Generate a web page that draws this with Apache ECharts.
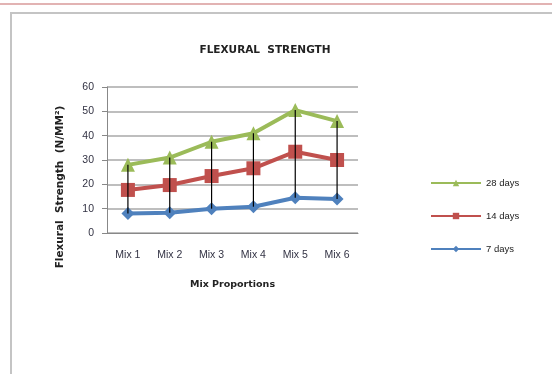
<!DOCTYPE html>
<html>
<head>
<meta charset="utf-8">
<style>
  html, body { margin: 0; padding: 0; background: #fff; }
  #chart { width: 552px; height: 374px; }
</style>
<script src="https://cdn.jsdelivr.net/npm/echarts@6/dist/echarts.min.js"></script>
</head>
<body>
<div id="chart"></div>
<script>
// Flexural strength by mix at three curing ages
const categories = ['Mix 1', 'Mix 2', 'Mix 3', 'Mix 4', 'Mix 5', 'Mix 6'];
const days28 = [28, 31, 37.5, 41, 50.5, 46];
const days14 = [17.7, 19.7, 23.4, 26.6, 33.4, 30];
const days7 = [8, 8.3, 10, 10.8, 14.5, 14];
const yTicks = [0, 10, 20, 30, 40, 50, 60];

// High-low connectors between the 7-day and 28-day values
const hiLow = categories.map((c, i) => [i, days7[i], days28[i]]);

const font = 'Liberation Sans, Arial, sans-serif';
const boldFont = 'DejaVu Sans, Liberation Sans, sans-serif';
const chart = echarts.init(document.getElementById('chart'));

chart.setOption({
  animation: false,
  title: {
    text: 'FLEXURAL  STRENGTH',
    left: 260, top: 40, textAlign: 'center',
    textStyle: { fontSize: 10.5, fontWeight: 'bold', color: '#222', fontFamily: boldFont }
  },
  graphic: [
    { type: 'line', shape: { x1: 0, y1: 4, x2: 552, y2: 4 },
      style: { stroke: '#d99a9a', lineWidth: 1.5 }, silent: true },
    { type: 'rect', shape: { x: 11, y: 13, width: 560, height: 380 },
      style: { fill: 'none', stroke: '#c4c4c4', lineWidth: 2 }, silent: true },
    // value axis title, rotated along the left side
    { type: 'text', x: 60, y: 187, rotation: Math.PI / 2, silent: true,
      style: { text: 'Flexural  Strength  (N/MM²)', fontSize: 10.5, fontWeight: 'bold',
        fontFamily: boldFont, fill: '#222', align: 'center', verticalAlign: 'middle' } }
  ],
  legend: {
    orient: 'vertical', left: 425, top: 173, itemGap: 23,
    itemWidth: 50, itemHeight: 8,
    data: ['28 days', '14 days', '7 days'],
    textStyle: { fontSize: 9.5, color: '#222', fontFamily: font }
  },
  grid: { left: 107, right: 194, top: 87, bottom: 141 },
  xAxis: {
    type: 'category', data: categories,
    name: 'Mix Proportions', nameLocation: 'middle', nameGap: 47,
    nameTextStyle: { fontSize: 9.5, fontWeight: 'bold', color: '#222', fontFamily: boldFont },
    axisLine: { lineStyle: { color: '#888' } },
    axisTick: { show: false },
    axisLabel: { fontSize: 10.5, color: '#334', margin: 17, fontFamily: font },
  },
  yAxis: {
    type: 'value', min: 0, max: 60, interval: 10,
    axisLine: { show: true, lineStyle: { color: '#888' } },
    axisTick: { show: true, length: 5, lineStyle: { color: '#888' } },
    axisLabel: { fontSize: 10.5, color: '#334', margin: 13, fontFamily: font,
      formatter: v => yTicks.includes(v) ? String(v) : '' },
    splitLine: { lineStyle: { color: '#a8a8a8', width: 1.5 } }
  },
  series: [
    { name: '7 days', type: 'line', data: days7, z: 3,
      symbol: 'diamond', symbolSize: 13,
      lineStyle: { color: '#4f81bd', width: 4 }, itemStyle: { color: '#4f81bd' } },
    { name: '14 days', type: 'line', data: days14, z: 3,
      symbol: 'rect', symbolSize: 14,
      lineStyle: { color: '#c0504d', width: 4 }, itemStyle: { color: '#c0504d' } },
    { name: '28 days', type: 'line', data: days28, z: 3,
      symbol: 'triangle', symbolSize: 14,
      lineStyle: { color: '#9bbb59', width: 4 }, itemStyle: { color: '#9bbb59' } },
    { name: 'hiLow', type: 'custom', data: hiLow, z: 5, silent: true,
      renderItem: (params, api) => {
        const lo = api.coord([api.value(0), api.value(1)]);
        const hi = api.coord([api.value(0), api.value(2)]);
        return { type: 'line', shape: { x1: lo[0], y1: lo[1], x2: hi[0], y2: hi[1] },
          style: { stroke: '#000', lineWidth: 1.2 } };
      } }
  ]
});
</script>
</body>
</html>
